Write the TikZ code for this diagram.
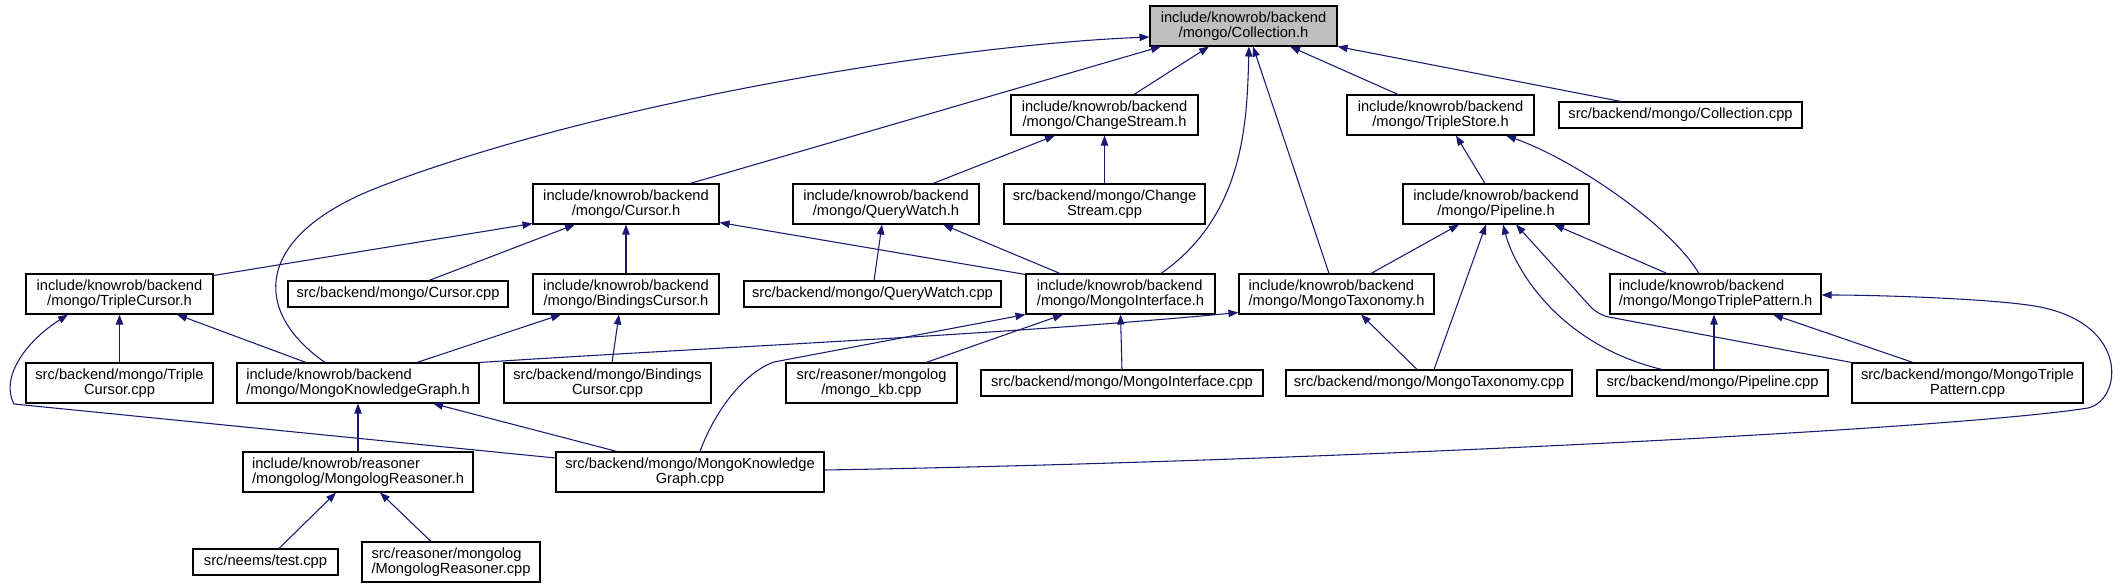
\documentclass[tikz,border=0pt]{standalone}
\usepackage{fontspec}
\setmainfont{Liberation Sans}
\usetikzlibrary{arrows.meta,calc}

\definecolor{edgeblue}{RGB}{25,25,112}
\definecolor{headgray}{RGB}{191,191,191}

\begin{document}
\begin{tikzpicture}[x=0.75pt,y=-0.75pt,
  file/.style={draw=black, line width=0.8pt, fill=white, inner sep=1pt,
    minimum height=30pt, align=center, font=\fontsize{11}{11.25}\selectfont},
  fileleft/.style={file, align=left},
  file1/.style={file, minimum height=19.5pt},
  wd/.style={minimum width=#1*0.75pt},
  dep/.style={draw=edgeblue, line width=0.8pt, -{Triangle[length=7.5pt,width=5.5pt]}}]

\useasboundingbox (0,0) rectangle (2120,588);

% --- rank 0 ---
\node[file, wd=187, fill=headgray] (coll) at (1243.5,26) {include/knowrob/backend\\/mongo/Collection.h};

% --- rank 1 ---
\node[file, wd=187] (chs) at (1104.5,115) {include/knowrob/backend\\/mongo/ChangeStream.h};
\node[file, wd=187] (tstore) at (1440.5,115) {include/knowrob/backend\\/mongo/TripleStore.h};
\node[file1, wd=243] (collcpp) at (1680.5,115) {src/backend/mongo/Collection.cpp};

% --- rank 2 ---
\node[file, wd=186] (cursor) at (626,204) {include/knowrob/backend\\/mongo/Cursor.h};
\node[file, wd=186] (qwatch) at (886,204) {include/knowrob/backend\\/mongo/QueryWatch.h};
\node[file, wd=201] (chscpp) at (1104.5,204) {src/backend/mongo/Change\\Stream.cpp};
\node[file, wd=186] (pipeline) at (1496,204) {include/knowrob/backend\\/mongo/Pipeline.h};

% --- rank 3 ---
\node[file, wd=187] (tcursor) at (119.5,294) {include/knowrob/backend\\/mongo/TripleCursor.h};
\node[file1, wd=220] (cursorcpp) at (398,294) {src/backend/mongo/Cursor.cpp};
\node[file, wd=186] (bcursor) at (626,294) {include/knowrob/backend\\/mongo/BindingsCursor.h};
\node[file1, wd=257] (qwatchcpp) at (872.5,294) {src/backend/mongo/QueryWatch.cpp};
\node[fileleft, wd=189] (minter) at (1120.5,294) {include/knowrob/backend\\/mongo/MongoInterface.h};
\node[fileleft, wd=195] (mtax) at (1336.5,294) {include/knowrob/backend\\/mongo/MongoTaxonomy.h};
\node[fileleft, wd=211] (mtp) at (1715.5,294) {include/knowrob/backend\\/mongo/MongoTriplePattern.h};

% --- rank 4 ---
\node[file, wd=187] (tcursorcpp) at (119.5,383) {src/backend/mongo/Triple\\Cursor.cpp};
\node[fileleft, wd=242] (mkgh) at (358,383) {include/knowrob/backend\\/mongo/MongoKnowledgeGraph.h};
\node[file, wd=207] (bcursorcpp) at (607.5,383) {src/backend/mongo/Bindings\\Cursor.cpp};
\node[file, wd=171] (mongokb) at (871.5,383) {src/reasoner/mongolog\\/mongo\_kb.cpp};
\node[file1, wd=282] (minterpp) at (1122,383) {src/backend/mongo/MongoInterface.cpp};
\node[file1, wd=286] (mtaxcpp) at (1429,383) {src/backend/mongo/MongoTaxonomy.cpp};
\node[file1, wd=231] (pipecpp) at (1712.5,383) {src/backend/mongo/Pipeline.cpp};
\node[file, wd=231] (mtpcpp) at (1967.5,383) {src/backend/mongo/MongoTriple\\Pattern.cpp};

% --- rank 5 ---
\node[fileleft, wd=230] (mreas) at (358,472) {include/knowrob/reasoner\\/mongolog/MongologReasoner.h};
\node[file, wd=268] (mkgcpp) at (690,472) {src/backend/mongo/MongoKnowledge\\Graph.cpp};

% --- rank 6 ---
\node[file1, wd=145] (testcpp) at (265.5,562) {src/neems/test.cpp};
\node[fileleft, wd=178] (mreascpp) at (451,562) {src/reasoner/mongolog\\/MongologReasoner.cpp};

% --- includes of Collection.h ---
\draw[dep] ($(mkgh.north)+(-33,0)$) .. controls (250,310) and (255,235) .. (379,187)
  .. controls (600,102) and (950,45) .. ($(coll.west)+(0,11)$);
\draw[dep] ($(cursor.north)+(64,0)$) -- ($(coll.south)+(-82.5,0)$);
\draw[dep] ($(chs.north)+(29.5,0)$) -- ($(coll.south)+(-34.5,0)$);
\draw[dep] ($(minter.north)+(40.5,0)$) .. controls (1245,215) and (1247,120) .. ($(coll.south)+(5.5,0)$);
\draw[dep] ($(mtax.north)+(-7.5,0)$) -- ($(coll.south)+(9.5,0)$);
\draw[dep] ($(tstore.north)+(-42.5,0)$) -- ($(coll.south)+(46.5,0)$);
\draw[dep] ($(collcpp.north)+(-59.5,0)$) -- (coll.south east);

% --- ChangeStream.h, TripleStore.h ---
\draw[dep] ($(qwatch.north)+(47,0)$) -- ($(chs.south)+(-49.5,0)$);
\draw[dep] (chscpp.north) -- (chs.south);
\draw[dep] ($(pipeline.north)+(-11,0)$) -- ($(tstore.south)+(15.5,0)$);
\draw[dep] ($(mtp.north)+(-16.5,0)$) .. controls (1670,225) and (1575,160) .. ($(tstore.south)+(65.5,0)$);

% --- Cursor.h, QueryWatch.h ---
\draw[dep] ($(tcursor.north east)+(0,2)$) -- ($(cursor.south west)+(0,-1)$);
\draw[dep] ($(cursorcpp.north)+(31,0)$) -- ($(cursor.south)+(-51,0)$);
\draw[dep] (bcursor.north) -- (cursor.south);
\draw[dep] ($(minter.north west)+(0,1)$) -- ($(cursor.south east)+(0,-2)$);
\draw[dep] ($(qwatchcpp.north)+(1.5,0)$) -- ($(qwatch.south)+(-4,0)$);
\draw[dep] ($(minter.north)+(-60.5,0)$) -- ($(qwatch.south)+(57,0)$);

% --- Pipeline.h ---
\draw[dep] ($(mtax.north)+(34.5,0)$) -- ($(pipeline.south)+(-37,0)$);
\draw[dep] ($(mtaxcpp.north)+(5,0)$) -- ($(pipeline.south)+(-10,0)$);
\draw[dep] ($(pipecpp.north)+(-50.5,0)$) .. controls (1560,345) and (1515,270) .. ($(pipeline.south)+(7,0)$);
\draw[dep, rounded corners=8] (mtpcpp.north west) -- (1598,315) -- ($(pipeline.south)+(20,0)$);
\draw[dep] ($(mtp.north)+(-48.5,0)$) -- ($(pipeline.south)+(58,0)$);

% --- TripleCursor.h, BindingsCursor.h ---
\draw[dep] (tcursorcpp.north) -- (tcursor.south);
\draw[dep] ($(mkgh.north)+(-52,0)$) -- ($(tcursor.south)+(57.5,0)$);
\draw[dep] ($(mkgcpp.west)+(0,-14)$) -- (14,404) .. controls (0,378) and (25,342) .. ($(tcursor.south)+(-51.5,0)$);
\draw[dep] ($(mkgh.north)+(59,0)$) -- ($(bcursor.south)+(-65,0)$);
\draw[dep] ($(bcursorcpp.north)+(4.5,0)$) -- ($(bcursor.south)+(-7,0)$);

% --- MongoInterface.h, MongoTaxonomy.h ---
\draw[dep] ($(mkgcpp.north)+(10,0)$) .. controls (715,410) and (745,372) .. (774,362) -- (minter.south west);
\draw[dep] ($(mongokb.north)+(54.5,0)$) -- ($(minter.south)+(-57.5,0)$);
\draw[dep] (minterpp.north) -- (minter.south);
\draw[dep] (mkgh.north east) .. controls (700,348) and (1000,335) .. ($(mtax.south west)+(0,-2)$);
\draw[dep] ($(mtaxcpp.north)+(-12,0)$) -- ($(mtax.south)+(24.5,0)$);

% --- MongoTriplePattern.h ---
\draw[dep] ($(mtpcpp.north)+(-54.5,0)$) -- ($(mtp.south)+(57.5,0)$);
\draw[dep] ($(pipecpp.north)+(1.5,0)$) -- ($(mtp.south)+(-1.5,0)$);
\draw[dep] ($(mkgcpp.east)+(0,-2)$) .. controls (1300,462) and (1950,430) .. (2088,408)
  .. controls (2122,400) and (2130,325) .. (2040,307)
  .. controls (2000,299) and (1880,295) .. ($(mtp.east)+(0,1)$);

% --- MongoKnowledgeGraph.h, MongologReasoner.h ---
\draw[dep] (mreas.north) -- (mkgh.south);
\draw[dep] ($(mkgcpp.north)+(-73,0)$) -- ($(mkgh.south)+(75,0)$);
\draw[dep] ($(testcpp.north)+(13.5,0)$) -- ($(mreas.south)+(-22,0)$);
\draw[dep] ($(mreascpp.north)+(-20,0)$) -- ($(mreas.south)+(22,0)$);

\end{tikzpicture}
\end{document}
